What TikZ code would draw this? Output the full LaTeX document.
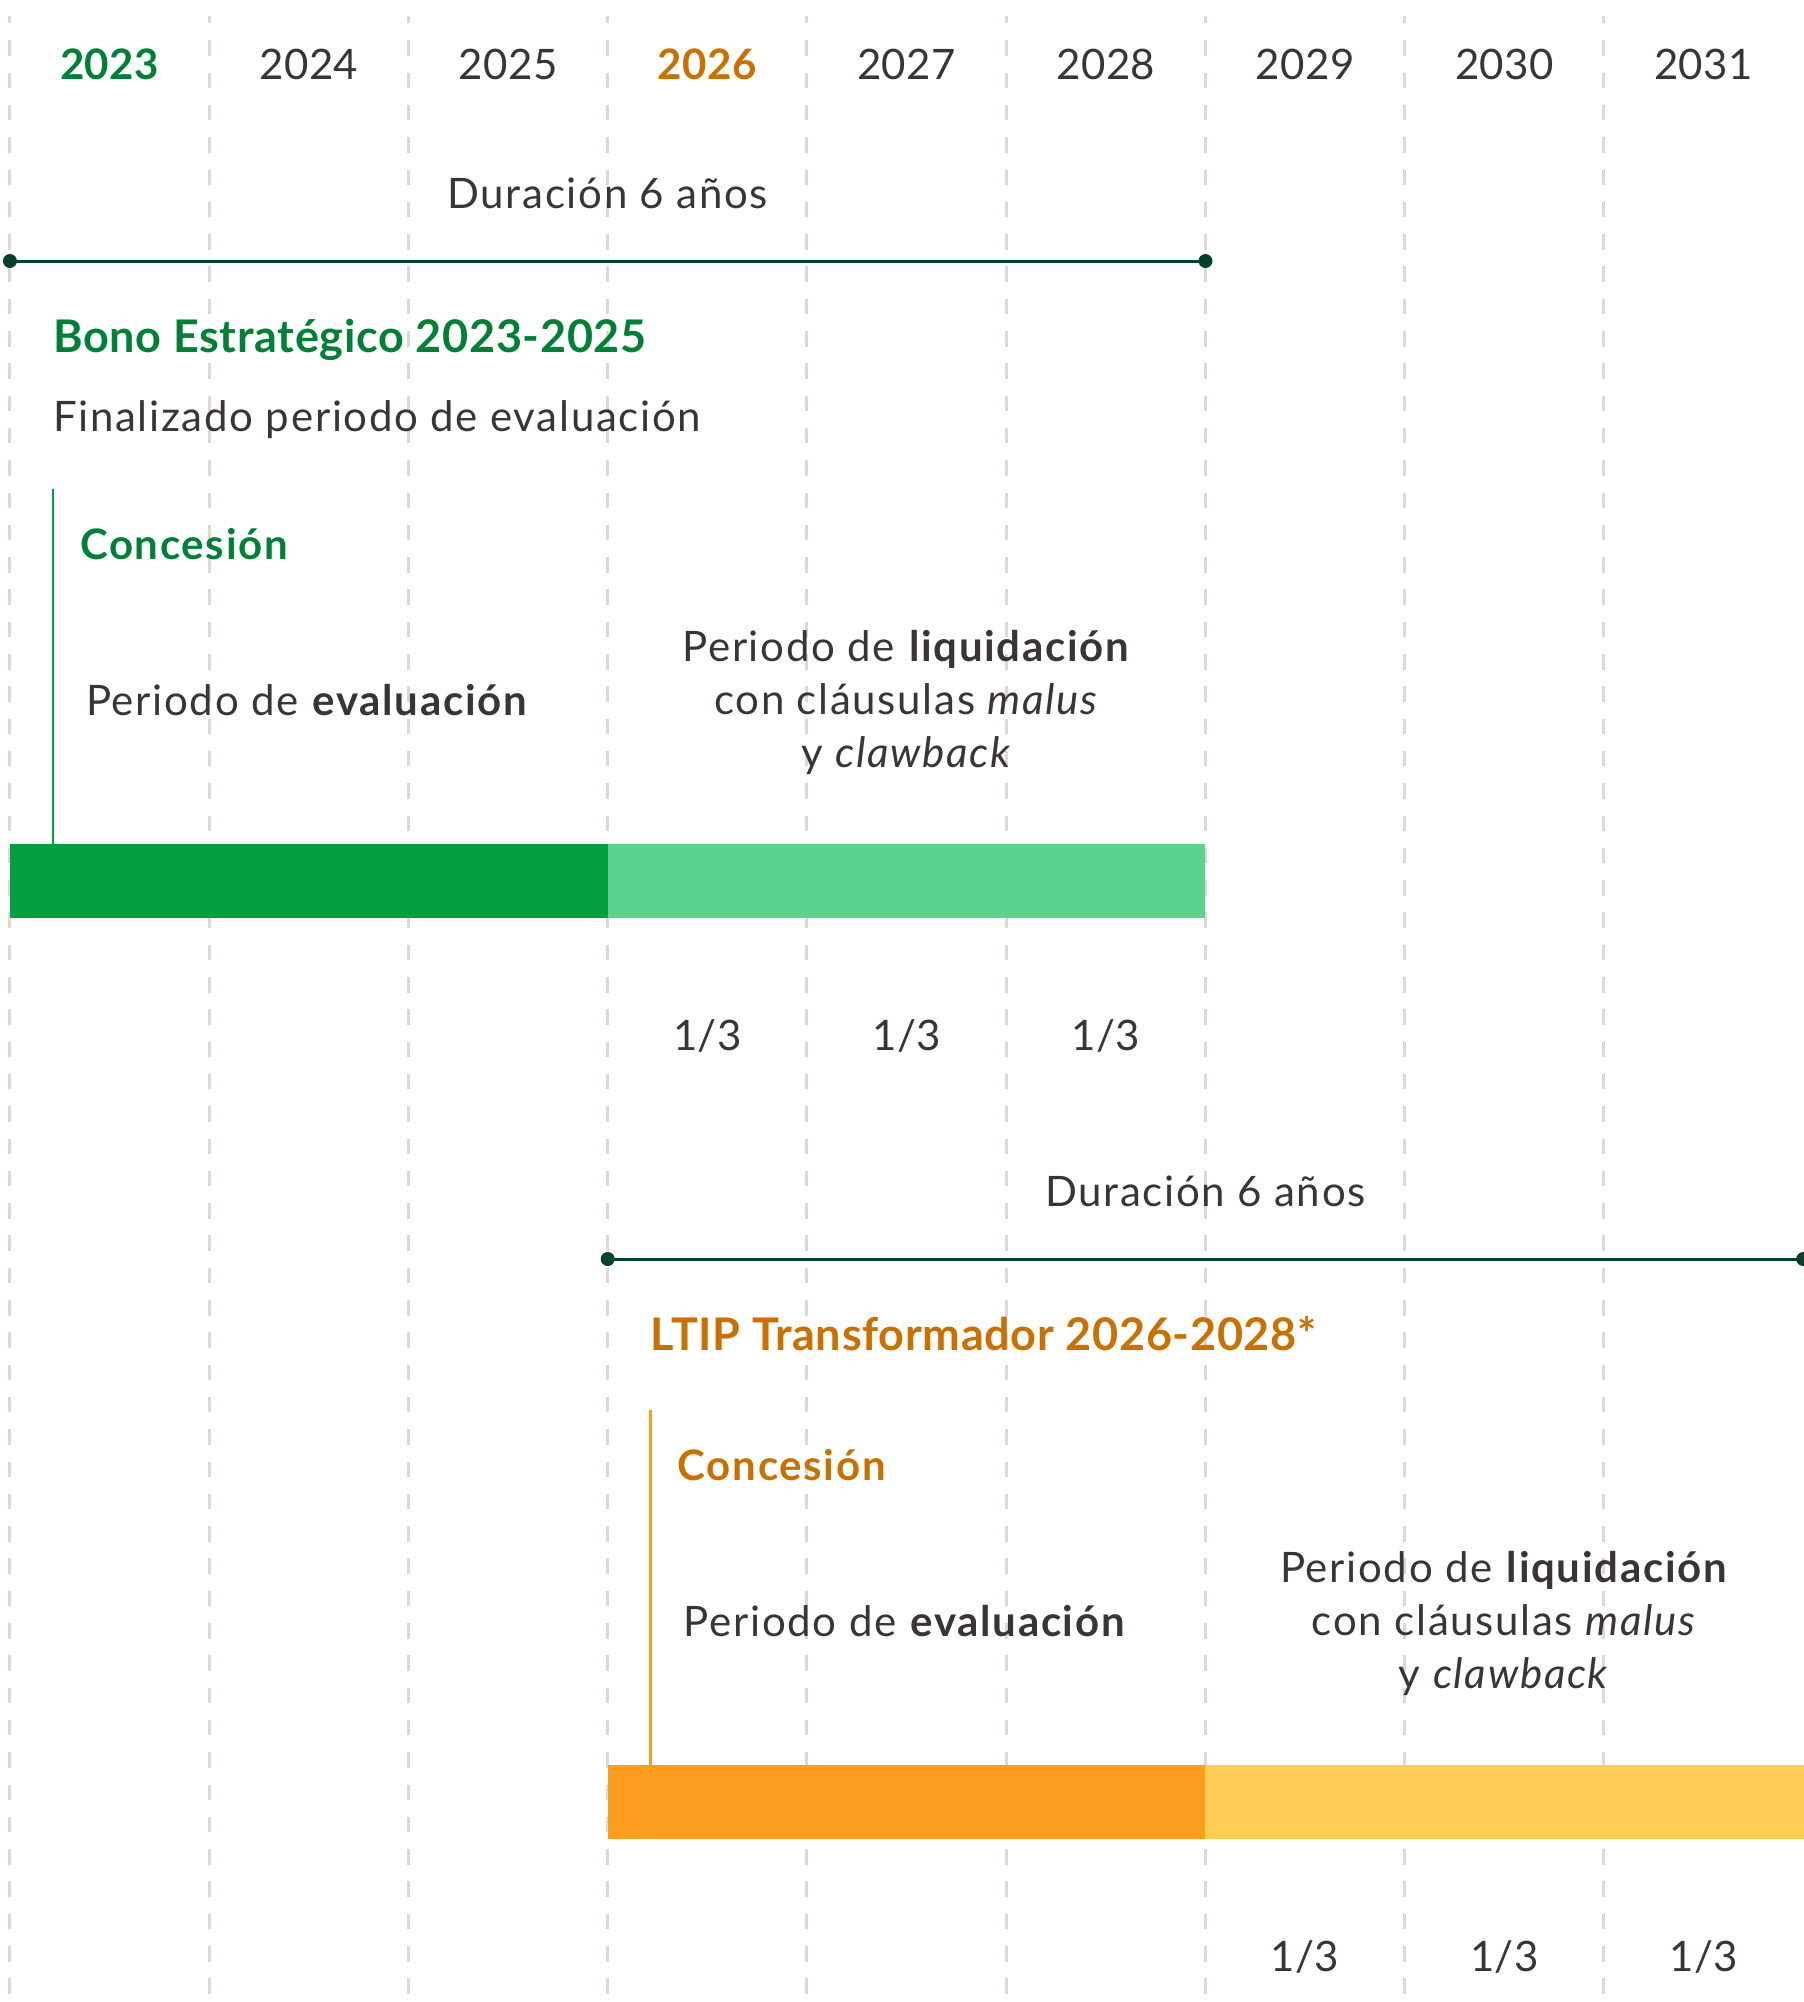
\documentclass[tikz,border=0pt]{standalone}
\usepackage{fontspec}
\setmainfont{Lato}[LetterSpace=4]
\newfontfamily\headfont{Lato}[LetterSpace=1.5]
\usepackage{xcolor}
\definecolor{gridgray}{RGB}{222,216,209}
\definecolor{ink}{RGB}{58,53,53}
\definecolor{textgreen}{RGB}{0,128,55}
\definecolor{textorange}{RGB}{200,112,0}
\definecolor{spanline}{RGB}{0,64,46}
\definecolor{bargreen}{RGB}{0,160,65}
\definecolor{barlightgreen}{RGB}{92,211,140}
\definecolor{barorange}{RGB}{252,157,32}
\definecolor{baryellow}{RGB}{255,205,85}
\newcommand{\grn}[1]{\textcolor{textgreen}{#1}}
\newcommand{\org}[1]{\textcolor{textorange}{#1}}
\usepackage{tikz}
\usetikzlibrary{calc}

\begin{document}
\begin{tikzpicture}[x=199.25pt, y=-1pt,
    every node/.style={inner sep=0pt, text=ink, anchor=base},
    font=\fontsize{42}{53}\selectfont,
    tight/.style={font=\fontsize{42}{53}\selectfont\addfontfeature{LetterSpace=1}},
    grid/.style={gridgray, line width=3pt, dash pattern=on 15.5pt off 16.8pt, dash phase=8pt},
    span/.style={spanline, line width=3pt},
    grant/.style={line width=2.8pt}]

    \useasboundingbox (-0.05, 0) rectangle (9, 2002);

    % year columns
    \draw [grid] (0, 16) -- (0, 2002);
    \draw [grid] (1, 16) -- (1, 2002);
    \draw [grid] (2, 16) -- (2, 2002);
    \draw [grid] (3, 16) -- (3, 2002);
    \draw [grid] (4, 16) -- (4, 2002);
    \draw [grid] (5, 16) -- (5, 2002);
    \draw [grid] (6, 16) -- (6, 2002);
    \draw [grid] (7, 16) -- (7, 2002);
    \draw [grid] (8, 16) -- (8, 2002);

    \node [tight] (y2023) at (0.5, 80) {\textbf{\grn{2023}}};
    \node [tight] (y2024) at (1.5, 80) {2024};
    \node [tight] (y2025) at (2.5, 80) {2025};
    \node [tight] (y2026) at (3.5, 80) {\textbf{\org{2026}}};
    \node [tight] (y2027) at (4.5, 80) {2027};
    \node [tight] (y2028) at (5.5, 80) {2028};
    \node [tight] (y2029) at (6.5, 80) {2029};
    \node [tight] (y2030) at (7.5, 80) {2030};
    \node [tight] (y2031) at (8.5, 80) {2031};

    % Bono Estrategico
    \node (dur1) at (3, 208) {Duración 6 años};
    \coordinate (s1) at (0, 261);
    \coordinate (e1) at (6, 261);
    \draw [span] (s1) -- (e1);
    \fill [spanline] (s1) circle (7pt) (e1) circle (7pt);

    \node [anchor=base west] (title1) at (0.216, 352)
    {\fontsize{45}{54}\headfont\bfseries\grn{Bono Estratégico 2023-2025}};
    \node [anchor=base west] (fin1) at (0.216, 431)
    {Finalizado periodo de evaluación};

    \fill [bargreen] (0, 844) rectangle (3, 918);
    \fill [barlightgreen] (3, 844) rectangle (6, 918);

    \coordinate (g1top) at (0.216, 489);
    \coordinate (g1bot) at (0.216, 844);
    \draw [grant, bargreen] (g1top) -- (g1bot);

    \node [anchor=base west] (conc1) at (0.351, 559)
    {\textbf{\grn{Concesión}}};
    \node [anchor=base west] (eval1) at (0.381, 715)
    {Periodo de \textbf{evaluación}};
    \node [align=center] (liq1) at (4.5, 767)
    {Periodo de \textbf{liquidación}\\
     con cláusulas \textit{malus}\\
     y \textit{clawback}};

    \node [tight] (third1a) at (3.5, 1050) {1/3};
    \node [tight] (third1b) at (4.5, 1050) {1/3};
    \node [tight] (third1c) at (5.5, 1050) {1/3};

    % LTIP Transformador
    \node (dur2) at (6, 1206) {Duración 6 años};
    \coordinate (s2) at (3, 1259);
    \coordinate (e2) at (9, 1259);
    \draw [span] (s2) -- (e2);
    \fill [spanline] (s2) circle (7pt) (e2) circle (7pt);

    \node [anchor=base west] (title2) at (3.216, 1350)
    {\fontsize{45}{54}\headfont\bfseries\org{LTIP Transformador 2026-2028*}};

    \fill [barorange] (3, 1765) rectangle (6, 1839);
    \fill [baryellow] (6, 1765) rectangle (9.1, 1839);

    \coordinate (g2top) at (3.216, 1410);
    \coordinate (g2bot) at (3.216, 1765);
    \draw [grant, barorange] (g2top) -- (g2bot);

    \node [anchor=base west] (conc2) at (3.351, 1480)
    {\textbf{\org{Concesión}}};
    \node [anchor=base west] (eval2) at (3.381, 1636)
    {Periodo de \textbf{evaluación}};
    \node [align=center] (liq2) at (7.5, 1688)
    {Periodo de \textbf{liquidación}\\
     con cláusulas \textit{malus}\\
     y \textit{clawback}};

    \node [tight] (third2a) at (6.5, 1971) {1/3};
    \node [tight] (third2b) at (7.5, 1971) {1/3};
    \node [tight] (third2c) at (8.5, 1971) {1/3};

  \end{tikzpicture}
\end{document}
